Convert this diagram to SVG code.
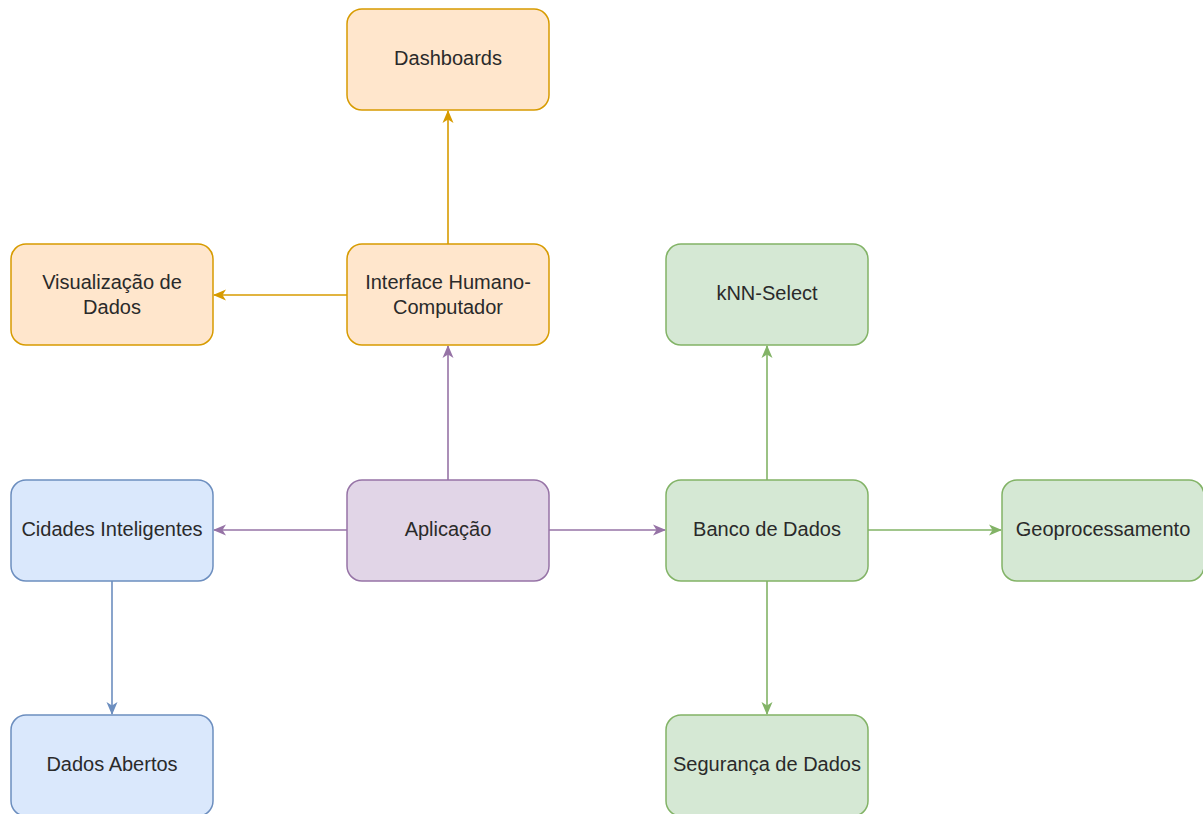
<svg xmlns="http://www.w3.org/2000/svg" width="1203" height="814" viewBox="0 0 1203 814">
<style>
.node rect{stroke-width:1.5}
.orange rect{fill:#ffe6cc;stroke:#d79b00}
.green rect{fill:#d5e8d4;stroke:#82b366}
.blue rect{fill:#dae8fc;stroke:#6c8ebf}
.purple rect{fill:#e1d5e7;stroke:#9673a6}
text{font-family:"Liberation Sans",Arial,sans-serif;font-size:20px;fill:#2a2a2a;text-anchor:middle;dominant-baseline:central}
.edge{fill:none;stroke-width:1.6}
.eo{stroke:#d79b00}
.ep{stroke:#9673a6}
.eg{stroke:#82b366}
.eb{stroke:#6c8ebf}
</style>
<defs>
<marker id="ao" markerWidth="13" markerHeight="12" refX="12" refY="6" orient="auto" markerUnits="userSpaceOnUse"><path d="M0,0.5 L13,6 L0,11.5 L3.5,6 Z" fill="#d79b00"/></marker>
<marker id="ap" markerWidth="13" markerHeight="12" refX="12" refY="6" orient="auto" markerUnits="userSpaceOnUse"><path d="M0,0.5 L13,6 L0,11.5 L3.5,6 Z" fill="#9673a6"/></marker>
<marker id="ag" markerWidth="13" markerHeight="12" refX="12" refY="6" orient="auto" markerUnits="userSpaceOnUse"><path d="M0,0.5 L13,6 L0,11.5 L3.5,6 Z" fill="#82b366"/></marker>
<marker id="ab" markerWidth="13" markerHeight="12" refX="12" refY="6" orient="auto" markerUnits="userSpaceOnUse"><path d="M0,0.5 L13,6 L0,11.5 L3.5,6 Z" fill="#6c8ebf"/></marker>
</defs>
<g id="connectors">
<path class="edge eo" d="M448,244 L448,111" marker-end="url(#ao)"/>
<path class="edge eo" d="M347,295 L214,295" marker-end="url(#ao)"/>
<path class="edge ep" d="M448,480 L448,346" marker-end="url(#ap)"/>
<path class="edge ep" d="M347,530 L214,530" marker-end="url(#ap)"/>
<path class="edge ep" d="M549,530 L665,530" marker-end="url(#ap)"/>
<path class="edge eg" d="M767,480 L767,346" marker-end="url(#ag)"/>
<path class="edge eg" d="M868,530 L1001,530" marker-end="url(#ag)"/>
<path class="edge eg" d="M767,581 L767,714" marker-end="url(#ag)"/>
<path class="edge eb" d="M112,581 L112,714" marker-end="url(#ab)"/>
</g>
<g id="dashboards" class="node orange"><rect x="347" y="9" width="202" height="101" rx="15"/><text x="448" y="58">Dashboards</text></g>
<g id="visualizacao" class="node orange"><rect x="11" y="244" width="202" height="101" rx="15"/><text x="112" y="282">Visualização de</text><text x="112" y="307">Dados</text></g>
<g id="interface" class="node orange"><rect x="347" y="244" width="202" height="101" rx="15"/><text x="448" y="282">Interface Humano-</text><text x="448" y="307">Computador</text></g>
<g id="knn" class="node green"><rect x="666" y="244" width="202" height="101" rx="15"/><text x="767" y="293">kNN-Select</text></g>
<g id="cidades" class="node blue"><rect x="11" y="480" width="202" height="101" rx="15"/><text x="112" y="529">Cidades Inteligentes</text></g>
<g id="aplicacao" class="node purple"><rect x="347" y="480" width="202" height="101" rx="15"/><text x="448" y="529">Aplicação</text></g>
<g id="banco" class="node green"><rect x="666" y="480" width="202" height="101" rx="15"/><text x="767" y="529">Banco de Dados</text></g>
<g id="geo" class="node green"><rect x="1002" y="480" width="202" height="101" rx="15"/><text x="1103" y="529">Geoprocessamento</text></g>
<g id="dadosabertos" class="node blue"><rect x="11" y="715" width="202" height="101" rx="15"/><text x="112" y="764">Dados Abertos</text></g>
<g id="seguranca" class="node green"><rect x="666" y="715" width="202" height="101" rx="15"/><text x="767" y="764">Segurança de Dados</text></g>
</svg>
